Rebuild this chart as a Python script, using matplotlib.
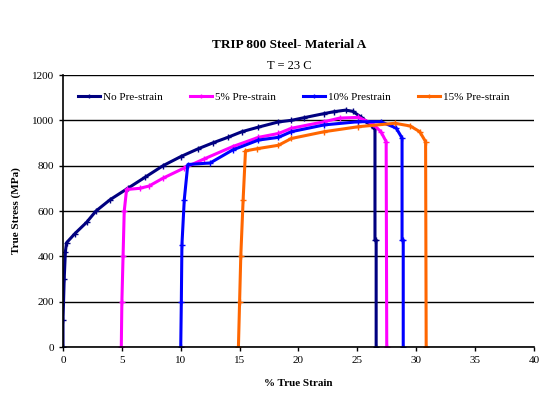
import matplotlib
matplotlib.use("Agg")
import matplotlib.pyplot as plt

plt.rcParams['font.family'] = ['Liberation Serif', 'DejaVu Serif']

title = "TRIP 800 Steel- Material A"
subtitle = "T = 23 C"
xlabel = "% True Strain"
ylabel = "True Stress (MPa)"
series_names = ["No Pre-strain", "5% Pre-strain", "10% Prestrain", "15% Pre-strain"]
colors = ["#000080", "#FF00FF", "#0000FF", "#FF6600"]

nopre_x = [0.0, 0.0, 0.1, 0.2, 0.3, 1.0, 2.0, 2.8, 4.0, 5.5, 7.0, 8.5, 10.0, 11.5, 12.7, 14.0, 15.2, 16.6, 18.3, 19.4, 20.5, 22.2, 23.0, 24.0, 24.6, 25.3, 25.9, 26.4, 26.5, 26.5, 26.6, 26.6]
nopre_y = [0, 120, 300, 420, 460, 500, 550, 600, 650, 700, 750, 800, 840, 875, 900, 925, 950, 970, 993, 1000, 1012, 1030, 1038, 1045, 1040, 1015, 990, 966, 966, 472, 472, 0]

p5_x = [4.95, 5.0, 5.1, 5.2, 5.4, 6.5, 7.3, 8.5, 10.3, 12.0, 14.4, 16.6, 18.3, 19.4, 22.2, 23.5, 25.1, 26.3, 27.0, 27.45, 27.5]
p5_y = [0, 200, 400, 600, 695, 700, 710, 745, 790, 830, 884, 925, 942, 965, 994, 1010, 1013, 985, 950, 906, 0]

p10_x = [10.0, 10.05, 10.1, 10.3, 10.6, 12.5, 14.4, 16.6, 18.3, 19.4, 22.2, 25.1, 27.0, 28.3, 28.8, 28.8, 28.9, 28.9]
p10_y = [0, 200, 450, 650, 805, 812, 869, 913, 925, 950, 980, 994, 994, 966, 922, 472, 472, 0]

p15_x = [14.9, 15.0, 15.1, 15.3, 15.5, 16.5, 18.3, 19.4, 22.2, 25.1, 28.2, 29.5, 30.3, 30.8, 30.85]
p15_y = [0, 200, 400, 650, 865, 875, 890, 920, 950, 972, 987, 975, 950, 906, 0]

xs = [nopre_x, p5_x, p10_x, p15_x]
ys = [nopre_y, p5_y, p10_y, p15_y]

xticks = [0, 5, 10, 15, 20, 25, 30, 35, 40]
yticks = [0, 200, 400, 600, 800, 1000, 1200]

fig = plt.figure(figsize=(5.4, 3.96), dpi=100)
ax = fig.add_axes([0.1167, 0.1237, 0.872, 0.6869])

for x, y, c, n in zip(xs, ys, colors, series_names):
    ax.plot(x, y, color=c, lw=2.2, marker='+', ms=4, mew=1, label=n)

ax.set_xlim(0, 40)
ax.set_ylim(0, 1200)
ax.set_xticks(xticks)
ax.set_yticks(yticks)
ax.tick_params(axis='both', labelsize=8, length=3, direction='out', width=1)
ax.grid(axis='y', color='black', lw=1)
ax.set_axisbelow(True)
for s in ['top', 'right']:
    ax.spines[s].set_visible(False)
for s in ['left', 'bottom']:
    ax.spines[s].set_linewidth(1.2)

ax.set_xlabel(xlabel, fontsize=8, fontweight='bold', labelpad=10)
ax.set_ylabel(ylabel, fontsize=8, fontweight='bold', labelpad=8)

leg = ax.legend(loc='upper center', bbox_to_anchor=(0.49, 0.975), ncol=4, frameon=False,
                fontsize=8, handlelength=2.0, columnspacing=2.4, handletextpad=0.3,
                markerscale=0.8)

fig.text(0.535, 0.878, title, ha='center', fontsize=9.5, fontweight='bold')
fig.text(0.535, 0.825, subtitle, ha='center', fontsize=9)

fig.savefig("out.png", dpi=100)
